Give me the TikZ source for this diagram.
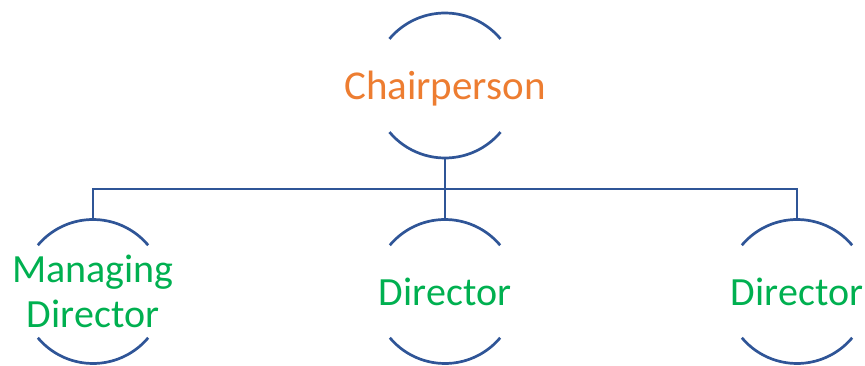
\documentclass[tikz,border=0pt]{standalone}
\usepackage{fontspec}
\setmainfont{Carlito}
\definecolor{lineblue}{HTML}{2F5597}
\definecolor{chairorange}{HTML}{ED7D31}
\definecolor{dirgreen}{HTML}{00B050}
\begin{document}
\begin{tikzpicture}[x=1pt,y=1pt,
  role/.style={inner sep=0pt,outer sep=0pt,align=center},
  arcline/.style={draw=lineblue,line width=2.7pt},
  conn/.style={draw=lineblue,line width=2.7pt}]
\useasboundingbox (0,0) rectangle (865,365);
\coordinate (chair-c) at (445,279.5);
\coordinate (md-c) at (93,73.5);
\coordinate (d1-c) at (445,73.5);
\coordinate (d2-c) at (797,73.5);
\node[role,text=chairorange,font=\fontsize{41}{48}\selectfont] (chair) at (445,276.5) {Chairperson};
\node[role,text=dirgreen,font=\fontsize{40}{45}\selectfont] (md) at (md-c) {Managing\\Director};
\node[role,text=dirgreen,font=\fontsize{40}{45}\selectfont] (d1) at (d1-c) {Director};
\node[role,text=dirgreen,font=\fontsize{40}{45}\selectfont] (d2) at (d2-c) {Director};
\foreach \n/\r in {chair/72.5,md/72,d1/72,d2/72}{
  \draw[arcline] (\n-c) ++(40:\r) arc[start angle=40,end angle=140,radius=\r];
  \draw[arcline] (\n-c) ++(220:\r) arc[start angle=220,end angle=320,radius=\r];
  \path (\n-c) ++(0,\r) coordinate (\n-top);
  \path (\n-c) ++(0,-\r) coordinate (\n-bot);
}
\coordinate (bus) at (445,176);
\draw[conn] (chair-bot) -- (bus);
\draw[conn] (md-top) |- (bus) -| (d2-top);
\draw[conn] (bus) -- (d1-top);
\end{tikzpicture}
\end{document}
